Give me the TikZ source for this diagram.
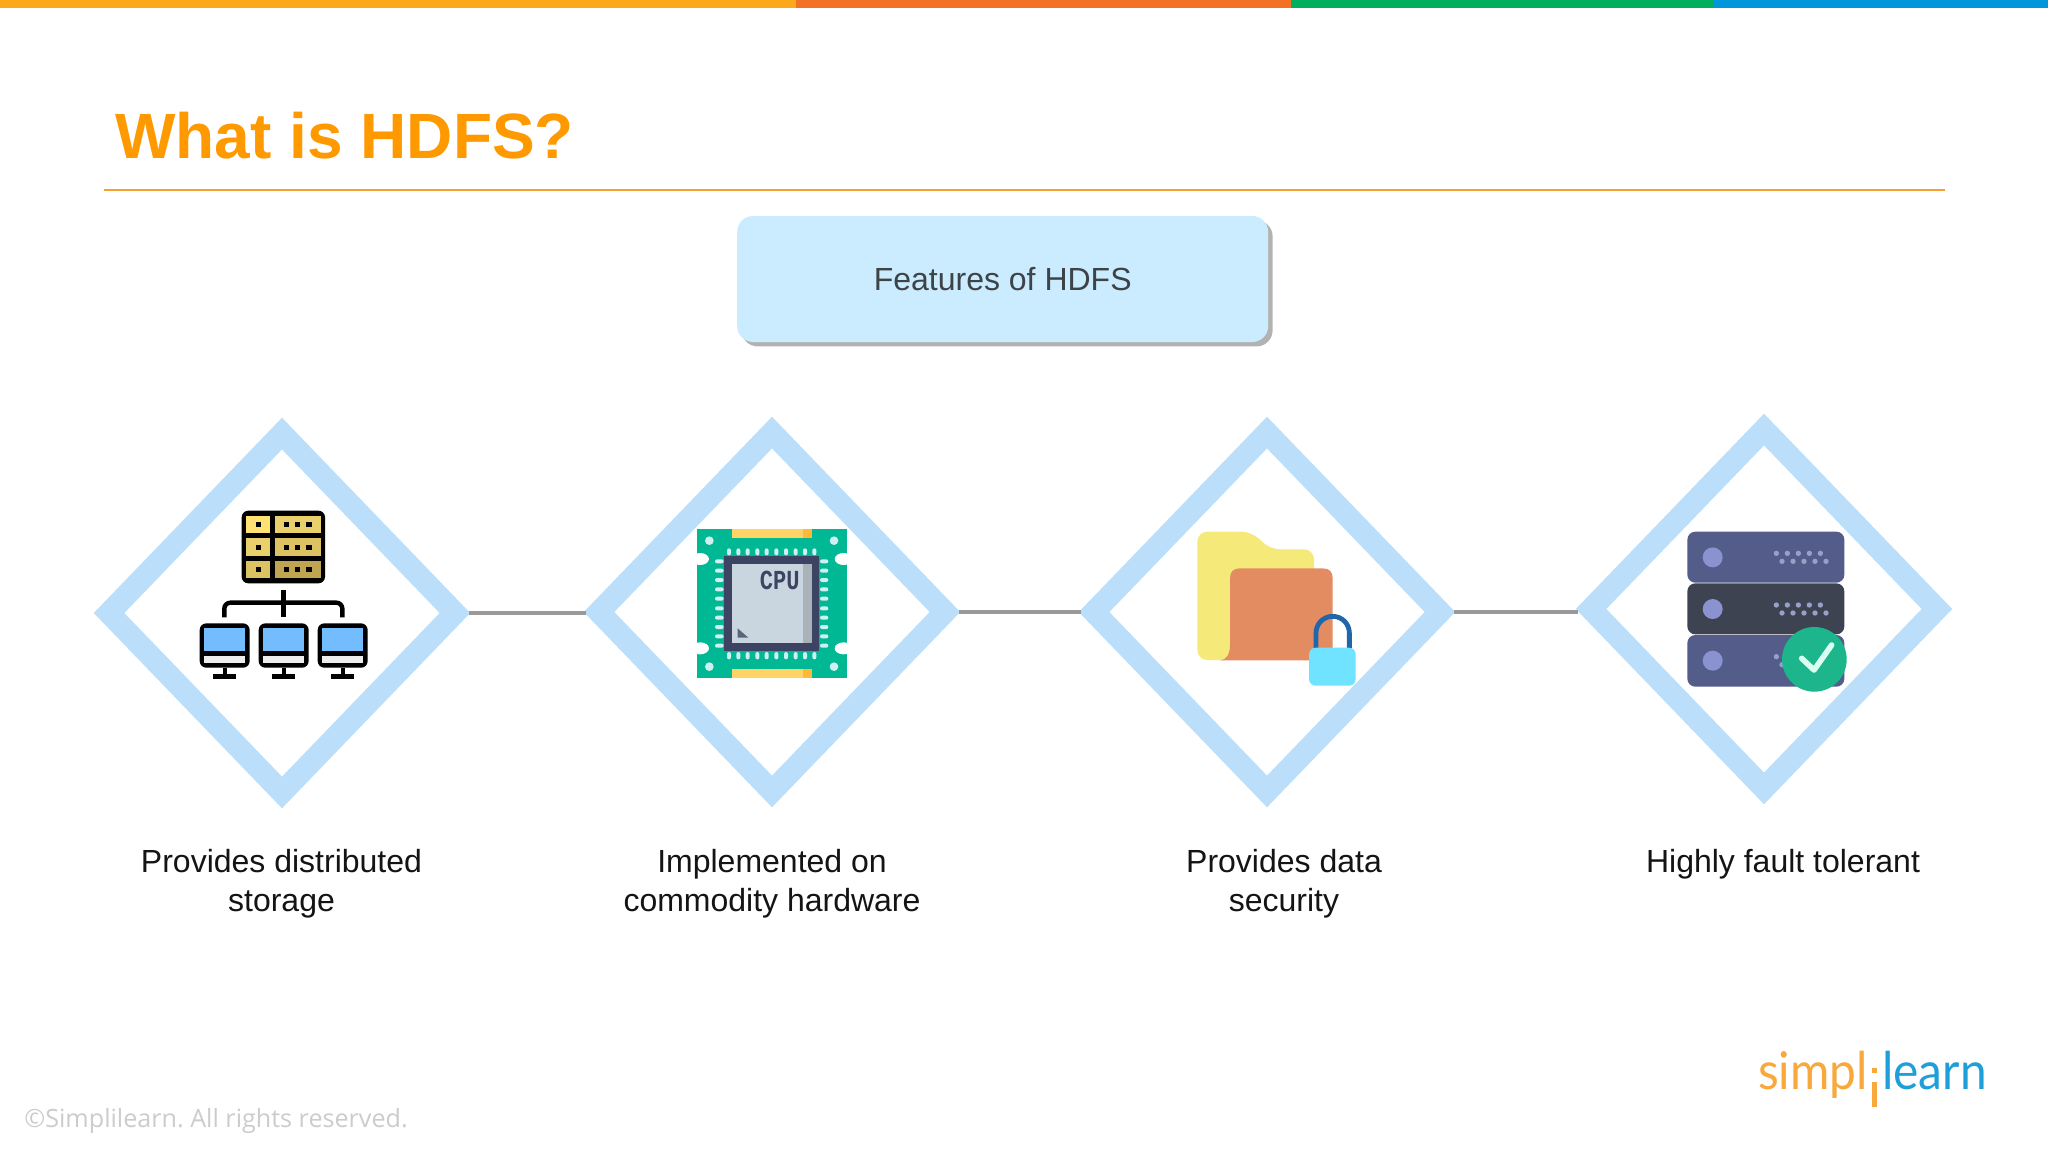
\documentclass[tikz,border=0pt]{standalone}
\usepackage{fontspec}
\setmainfont{Liberation Sans}
\newfontfamily\copyfont{Open Sans}
\newfontfamily\logofont{Lato}
\newfontfamily\chipfont{Liberation Mono}
\usetikzlibrary{shapes.geometric,shadows}
\definecolor{hdfsorange}{HTML}{FF9900}
\definecolor{barorange}{HTML}{FCA81A}
\definecolor{ruleorange}{HTML}{F5A033}
\definecolor{bandblue}{HTML}{BBDFFB}
\definecolor{boxblue}{HTML}{CBEBFF}
\definecolor{chipdark}{HTML}{3D4463}
\definecolor{chippin}{HTML}{CFEFF0}
\definecolor{rackblue}{HTML}{545C8A}
\definecolor{rackdot}{HTML}{98A0C8}
\definecolor{logoorange}{HTML}{F9A93B}
\tikzset{
	featurediamond/.style={diamond,draw=bandblue,line width=11pt,inner sep=0pt,aspect=1,minimum width=177.5pt,minimum height=184pt},
	featurelabel/.style={anchor=north,inner sep=0pt,align=center,text=black!92,font=\fontsize{16}{19.5}\selectfont},
	linkline/.style={draw=black!40,line width=2pt,shorten <=-1pt,shorten >=-1pt},
	iconscope/.style={x=0.16667pt,y=-0.16667pt}
}

\begin{document}
\begin{tikzpicture}[x=0.5pt,y=-0.5pt]
		\useasboundingbox (0,0) rectangle (2048,1152);
		\fill[white] (0,0) rectangle (2048,1152);
		% top bar
		\fill[barorange] (0,0) rectangle (796,8);
		\fill[fill={rgb,255:red,243;green,113;blue,36}] (796,0) rectangle (1291,8);
		\fill[fill={rgb,255:red,0;green,174;blue,96}] (1291,0) rectangle (1714,8);
		\fill[fill={rgb,255:red,0;green,150;blue,218}] (1714,0) rectangle (2048,8);
		\node[anchor=base west,inner sep=0pt,text=hdfsorange,font=\fontsize{32}{36}\selectfont\bfseries] (title) at (115,158) {What is HDFS?};
		\draw[ruleorange,line width=0.8pt] (104,190) -- (1945,190);
		\node[draw=none,fill=boxblue,rounded corners=8pt,minimum width=265.5pt,minimum height=63pt,inner sep=0pt,text={rgb,255:red,60;green,68;blue,72},font=\fontsize{16}{19}\selectfont,drop shadow={shadow xshift=2.2pt,shadow yshift=-2.2pt,fill=black!50,opacity=.6}] (head) at (1002.7,279) {Features of HDFS};
		% diamonds
		\node[featurediamond] (dstore) at (282,613) {};
		\node[featurediamond] (dchip) at (772,612) {};
		\node[featurediamond] (dlock) at (1267,612) {};
		\node[featurediamond] (dfault) at (1764,609) {};
		\draw[linkline] (dstore.east) -- (dstore.east -| dchip.west);
		\draw[linkline] (dchip.east) -- (dlock.west);
		\draw[linkline] (dlock.east) -- (dlock.east -| dfault.west);
		\node[featurelabel] (lstore) at (281.5,849) {Provides distributed\\storage};
		\node[featurelabel] (lchip) at (772,849) {Implemented on\\commodity hardware};
		\node[featurelabel] (llock) at (1284,849) {Provides data\\security};
		\node[featurelabel] (lfault) at (1783,849) {Highly fault tolerant};
		% icon storage
		\begin{scope}[shift={(80,400)},iconscope]
			\fill[black,rounded corners=3.3pt] (485,332) rectangle (735,550);
			\foreach \ry/\ca/\cb in {347/FFE272/E9D06C,415/E9D06C/DCC263,482/DCC263/BFA452} {
				\definecolor{cellleft}{HTML}{\ca}
				\definecolor{cellright}{HTML}{\cb}
				\fill[cellleft] (497,\ry) rectangle (570,\ry+53);
				\fill[cellright] (585,\ry) rectangle (722,\ry+53);
				\fill[black] (527,\ry+19) rectangle +(16,16);
				\foreach \dx in {611,645,679} {
					\fill[black] (\dx,\ry+19) rectangle +(16,16);
				}
			}
			\draw[black,line width=2.6pt] (610,570) -- (610,652);
			\draw[black,line width=2.2pt,rounded corners=3pt] (433,652) -- (433,608) -- (787,608) -- (787,652);
			\foreach \mx in {434,611,788} {
				\fill[black,rounded corners=3.3pt] (\mx-75,670) rectangle (\mx+75,803);
				\fill[fill={rgb,255:red,115;green,189;blue,255}] (\mx-62,684) rectangle (\mx+62,752);
				\fill[black!7] (\mx-62,768) rectangle (\mx+62,790);
				\fill[black] (\mx-6,803) rectangle (\mx+6,825);
				\fill[black] (\mx-35,821) rectangle (\mx+35,836);
			}
		\end{scope}
		% icon cpu
		\begin{scope}[shift={(660,500)},iconscope]
			\fill[fill={rgb,255:red,0;green,184;blue,148}] (111,88) rectangle (560,534);
			\foreach \nx/\ny in {120/177,120/445,551/177,551/445} {
				\fill[white] (\nx,\ny) ellipse (27 and 18);
			}
			\fill[white] (90,150) rectangle (111,205);
			\fill[white] (90,418) rectangle (111,472);
			\fill[white] (560,150) rectangle (582,205);
			\fill[white] (560,418) rectangle (582,472);
			\fill[fill={rgb,255:red,255;green,212;blue,102}] (217,88) rectangle (430,115);
			\fill[fill={rgb,255:red,255;green,184;blue,56}] (430,88) rectangle (455,115);
			\fill[fill={rgb,255:red,255;green,212;blue,102}] (217,508) rectangle (430,534);
			\fill[fill={rgb,255:red,255;green,184;blue,56}] (430,508) rectangle (455,534);
			\foreach \hx/\hy in {148/122,522/122,148/500,522/500} {
				\fill[chippin] (\hx,\hy) circle (13);
			}
			\foreach \pp in {207,235,263,292,320,349,378,407,435,463} {
				\fill[chippin,rounded corners=1pt] (\pp-6,145) rectangle (\pp+6,166);
				\fill[chippin,rounded corners=1pt] (\pp-6,456) rectangle (\pp+6,478);
			}
			\foreach \pp in {184,212,240,268,296,325,353,381,409,437} {
				\fill[chippin,rounded corners=1pt] (165,\pp-6) rectangle (191,\pp+6);
				\fill[chippin,rounded corners=1pt] (480,\pp-6) rectangle (505,\pp+6);
			}
			\fill[chipdark] (193,168) rectangle (478,452);
			\fill[fill={rgb,255:red,201;green,213;blue,223}] (217,192) rectangle (428,428);
			\fill[fill={rgb,255:red,169;green,178;blue,184}] (428,192) rectangle (455,428);
			\fill[fill={rgb,255:red,93;green,99;blue,120}] (233,385) -- (233,413) -- (265,413) -- cycle;
			\node[inner sep=0pt,text=chipdark,font=\chipfont\fontsize{11}{12}\selectfont\bfseries,yscale=1.25,transform shape] (cpu) at (359,241) {CPU};
		\end{scope}
		% icon folder
		\begin{scope}[shift={(1170,500)},iconscope]
			\fill[fill={rgb,255:red,245;green,233;blue,122},rounded corners=5pt] (82,95) -- (245,95) -- (300,148) -- (432,148) -- (432,300) -- (190,300) -- (190,480) -- (82,480) -- cycle;
			\fill[fill={rgb,255:red,227;green,140;blue,98}] (150,481) .. controls (170,481) and (180,460) .. (180,435) -- (180,235) .. controls (180,215) and (190,205) .. (210,205) -- (458,205) .. controls (478,205) and (488,215) .. (488,235) -- (488,481) -- cycle;
			\draw[fill=none,draw={rgb,255:red,33;green,102;blue,168},line width=2.4pt,rounded corners=8.3pt] (438,450) -- (438,349) -- (538,349) -- (538,450);
			\fill[fill={rgb,255:red,111;green,227;blue,255},rounded corners=3.3pt] (417,443) rectangle (557,557);
		\end{scope}
		% icon rack
		\begin{scope}[shift={(1660,500)},iconscope]
			\fill[rackblue,rounded corners=4pt] (82,95) rectangle (553,248);
			\fill[rackblue,rounded corners=4pt] (82,405) rectangle (553,560);
			\fill[fill={rgb,255:red,61;green,67;blue,80},rounded corners=4pt] (82,250) rectangle (553,403);
			\foreach \ry in {172,327,482} {
				\fill[fill={rgb,255:red,138;green,147;blue,208}] (158,\ry) circle (30);
				\foreach \dx in {349,382,415,448,481} {
					\fill[rackdot] (\dx,\ry-12) circle (8);
					\fill[rackdot] (\dx+17,\ry+12) circle (8);
				}
			}
			\fill[fill={rgb,255:red,29;green,181;blue,140}] (463,478) circle (97);
			\draw[draw={rgb,255:red,216;green,255;blue,240},line width=2.8pt,line cap=round,line join=round] (425,475) -- (462,510) -- (515,435);
		\end{scope}
		% logo
		\node[anchor=base east,inner sep=0pt,text=logoorange,font=\logofont\fontsize{26}{30}\selectfont,xscale=.92,transform shape] (logoa) at (1868,1089) {simpl};
		\node[anchor=base west,inner sep=0pt,text={rgb,255:red,31;green,159;blue,218},font=\logofont\fontsize{26}{30}\selectfont,xscale=.92,transform shape] (logob) at (1882,1089) {learn};
		\fill[logoorange] (1872,1068) rectangle (1877,1073);
		\fill[logoorange] (1872,1082) rectangle (1877,1107);
		\node[anchor=base west,inner sep=0pt,text=black!20,font=\copyfont\fontsize{12.57}{15}\selectfont] (copyr) at (24,1127) {\frenchspacing ©Simplilearn. All rights reserved.};
	\end{tikzpicture}
\end{document}
